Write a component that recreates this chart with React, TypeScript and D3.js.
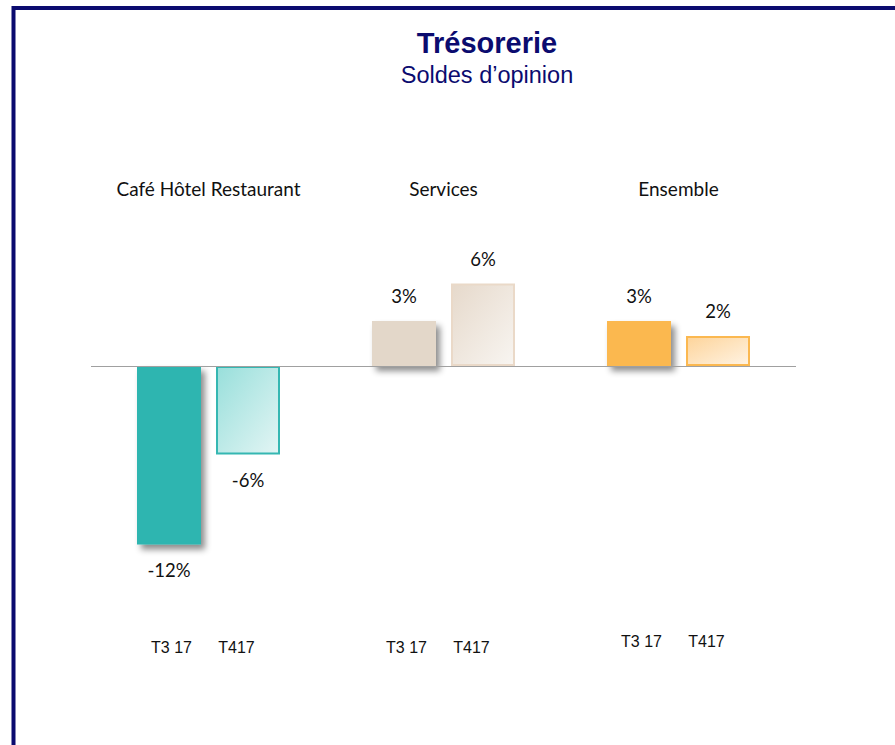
import React, { useEffect, useRef } from "react";
import * as d3 from "d3";

// chart data
const groups = ["Café Hôtel Restaurant", "Services", "Ensemble"];
const periods = ["T3 17", "T417"];
const valuesT3 = [-11.9, 3.0, 3.0];
const valuesT4 = [-5.9, 5.5, 2.0];
const labelsT3 = ["-12%", "3%", "3%"];
const labelsT4 = ["-6%", "6%", "2%"];
const solidColors = ["#2db5b0", "#e3d7c9", "#fbb850"];
const lightFrom = ["#98dfdb", "#e6d9cb", "#fdd49a"];
const lightTo = ["#e3f5f4", "#f8f5f1", "#fff3e3"];
const lightStroke = ["#35b7b2", "#ead9c8", "#fbb850"];

export default function App() {
  const svgRef = useRef<SVGSVGElement>(null);
  const W = 895;
  const H = 745;

  useEffect(() => {
    const svg = d3.select(svgRef.current);
    svg.selectAll("*").remove();

    const defs = svg.append("defs");
    defs
      .append("filter")
      .attr("id", "shadow")
      .attr("x", "-20%")
      .attr("y", "-20%")
      .attr("width", "150%")
      .attr("height", "150%")
      .append("feDropShadow")
      .attr("dx", 4)
      .attr("dy", 5)
      .attr("stdDeviation", 3)
      .attr("flood-color", "#000")
      .attr("flood-opacity", 0.45);

    groups.forEach((g, i) => {
      const grad = defs
        .append("linearGradient")
        .attr("id", `grad${i}`)
        .attr("x1", "0%")
        .attr("y1", "0%")
        .attr("x2", "100%")
        .attr("y2", "100%");
      grad.append("stop").attr("offset", "0%").attr("stop-color", lightFrom[i]);
      grad.append("stop").attr("offset", "100%").attr("stop-color", lightTo[i]);
    });

    // frame
    svg
      .append("rect")
      .attr("x", 13.5)
      .attr("y", 8)
      .attr("width", 1000)
      .attr("height", 1000)
      .attr("fill", "white")
      .attr("stroke", "#0b0b6f")
      .attr("stroke-width", 4);

    // titles
    svg
      .append("text")
      .attr("x", 487)
      .attr("y", 53)
      .attr("text-anchor", "middle")
      .style("font-family", "Arial, 'Liberation Sans', sans-serif")
      .style("font-weight", "bold")
      .style("font-size", "29px")
      .style("fill", "#0b0b6f")
      .text("Trésorerie");
    svg
      .append("text")
      .attr("x", 487)
      .attr("y", 83)
      .attr("text-anchor", "middle")
      .style("font-family", "Arial, 'Liberation Sans', sans-serif")
      .style("font-size", "23.5px")
      .style("fill", "#0b0b6f")
      .text("Soldes d\u2019opinion");

    const x = d3.scaleBand().domain(groups).range([91, 796]);
    const y = d3.scaleLinear().domain([0, 1]).range([366, 351]);
    const inner = d3.scaleBand().domain(periods).range([-71.5, 71.5]).paddingInner(15 / 79);

    const g = svg.append("g");

    // group labels
    g.selectAll(".glabel")
      .data(groups)
      .enter()
      .append("text")
      .attr("x", (d) => x(d)! + x.bandwidth() / 2)
      .attr("y", 196)
      .attr("text-anchor", "middle")
      .style("font-family", "Lato, 'Open Sans', sans-serif")
      .style("font-size", "19px")
      .style("fill", "#111")
      .text((d) => d);

    const bars = groups.flatMap((gr, i) => [
      { gr, i, p: periods[0], v: valuesT3[i], label: labelsT3[i], solid: true },
      { gr, i, p: periods[1], v: valuesT4[i], label: labelsT4[i], solid: false },
    ]);
    const bx = (d: any) => x(d.gr)! + x.bandwidth() / 2 + inner(d.p)!;

    // bars
    bars.forEach((d) => {
      const top = Math.min(y(d.v), y(0));
      const h = Math.abs(y(d.v) - y(0));
      if (d.solid) {
        g.append("rect")
          .attr("x", bx(d))
          .attr("y", top)
          .attr("width", inner.bandwidth())
          .attr("height", h)
          .attr("fill", solidColors[d.i])
          .attr("filter", "url(#shadow)");
      } else {
        g.append("rect")
          .attr("x", bx(d) + 1)
          .attr("y", top + 1)
          .attr("width", inner.bandwidth() - 2)
          .attr("height", h - 2)
          .attr("fill", `url(#grad${d.i})`)
          .attr("stroke", lightStroke[d.i])
          .attr("stroke-width", 2);
      }
    });

    // zero line
    g.append("line")
      .attr("x1", 91)
      .attr("x2", 796)
      .attr("y1", y(0) + 0.5)
      .attr("y2", y(0) + 0.5)
      .attr("stroke", "#a0a0a0")
      .attr("stroke-width", 1);

    // value labels
    g.selectAll(".vlabel")
      .data(bars)
      .enter()
      .append("text")
      .attr("x", (d) => bx(d) + inner.bandwidth() / 2)
      .attr("y", (d) => (d.v < 0 ? y(d.v) + 26 : y(d.v) - 24))
      .attr("dy", "0.35em")
      .attr("text-anchor", "middle")
      .style("font-family", "Lato, 'Open Sans', sans-serif")
      .style("font-size", "18.5px")
      .style("fill", "#111")
      .text((d) => d.label);

    // period labels
    g.selectAll(".plabel")
      .data(bars)
      .enter()
      .append("text")
      .attr("x", (d) => x(d.gr)! + x.bandwidth() / 2 + (d.p === periods[0] ? -37 : 28))
      .attr("y", (d) => (d.i === 2 ? 647 : 653))
      .attr("text-anchor", "middle")
      .style("font-family", "Arial, 'Liberation Sans', sans-serif")
      .style("font-size", "16px")
      .style("fill", "#111")
      .text((d) => d.p);
  }, []);

  return (
    <div style={{ position: "absolute", left: 0, top: 0 }}>
      <svg ref={svgRef} width={W} height={H} style={{ display: "block" }} />
    </div>
  );
}
